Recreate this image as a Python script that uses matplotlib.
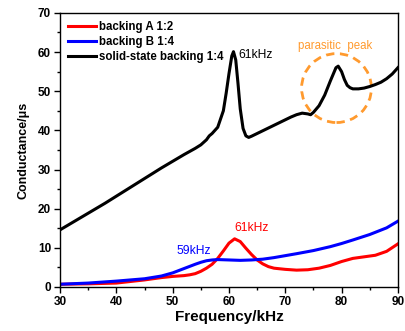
import matplotlib
matplotlib.use('Agg')
from matplotlib import pyplot as plt
from matplotlib.patches import Ellipse
from matplotlib.ticker import MultipleLocator

plt.rcParams['font.family'] = ['Liberation Sans', 'DejaVu Sans']

# solid-state backing 1:4
freq_black = [30, 32, 34, 36, 38, 40, 42, 44, 46, 48, 50, 52, 54, 55, 56, 56.5, 57, 58,
              59, 59.5, 60, 60.5, 60.8, 61.2, 61.6, 62, 62.5, 63, 63.5, 64, 65, 66, 67,
              68, 69, 70, 71, 72, 73, 74, 74.5, 75, 76, 77, 78, 79, 79.4, 80, 80.5, 81,
              81.5, 82, 83, 84, 85, 86, 87, 88, 89, 90]
cond_black = [14.6, 16.3, 18.0, 19.7, 21.4, 23.2, 25.0, 26.8, 28.6, 30.4, 32.1, 33.8, 35.4,
              36.3, 37.6, 38.6, 39.2, 40.8, 45.0, 49.5, 54.5, 59.0, 60.1, 58.0, 52.0, 45.5,
              40.5, 38.6, 38.2, 38.5, 39.2, 39.9, 40.6, 41.3, 42.0, 42.7, 43.4, 44.0, 44.4,
              44.2, 44.0, 44.6, 46.3, 49.0, 52.6, 56.0, 56.4, 55.0, 53.0, 51.5, 50.9, 50.6,
              50.6, 50.8, 51.2, 51.7, 52.3, 53.2, 54.4, 56.0]

# backing A 1:2
freq_red = [30, 35, 40, 45, 48, 50, 52, 53, 54, 55, 56, 57, 58, 59, 60, 61, 62, 63, 64,
            65, 66, 67, 68, 70, 72, 74, 76, 78, 80, 82, 84, 86, 88, 90]
cond_red = [0.7, 0.8, 1.0, 1.8, 2.4, 2.7, 2.9, 3.1, 3.4, 4.0, 4.8, 5.8, 7.3, 9.2, 11.2,
            12.3, 11.6, 9.9, 8.3, 6.9, 5.9, 5.2, 4.8, 4.5, 4.3, 4.4, 4.8, 5.5, 6.5, 7.3,
            7.7, 8.1, 9.1, 11.0]

# backing B 1:4
freq_blue = [30, 35, 40, 45, 48, 50, 52, 54, 55, 56, 57, 58, 60, 62, 64, 66, 68, 70, 72,
             75, 78, 80, 82, 85, 88, 90]
cond_blue = [0.7, 1.0, 1.5, 2.1, 2.8, 3.6, 4.7, 5.8, 6.3, 6.7, 6.9, 7.0, 6.9, 6.8, 6.9,
             7.1, 7.5, 8.0, 8.5, 9.3, 10.3, 11.1, 12.0, 13.4, 15.1, 16.8]

orange = '#FF9A2E'

fig = plt.figure(figsize=(4.06, 3.31), dpi=100)
ax = fig.add_axes([0.148, 0.133, 0.832, 0.828])

ax.plot(freq_red, cond_red, color='#FF0000', lw=2.2, label='backing A 1:2')
ax.plot(freq_blue, cond_blue, color='#0000FF', lw=2.2, label='backing B 1:4')
ax.plot(freq_black, cond_black, color='black', lw=2.2, label='solid-state backing 1:4')

ax.text(61.6, 59.3, '61kHz', fontsize=8.7, color='black', va='center', ha='left')
ax.text(64.0, 15.1, '61kHz', fontsize=8.7, color='#FF0000', va='center', ha='center')
ax.text(53.7, 9.3, '59kHz', fontsize=8.7, color='#0000FF', va='center', ha='center')
ax.text(78.8, 61.6, 'parasitic  peak', fontsize=8.3, color=orange, va='center', ha='center')
ax.add_patch(Ellipse((79.1, 50.8), 12.4, 17.6, fill=False, edgecolor=orange,
                     lw=2.0, linestyle=(0, (3, 2))))

ax.set_xlim(30, 90)
ax.set_ylim(0, 70)
ax.xaxis.set_major_locator(MultipleLocator(10))
ax.xaxis.set_minor_locator(MultipleLocator(5))
ax.yaxis.set_major_locator(MultipleLocator(10))
ax.yaxis.set_minor_locator(MultipleLocator(5))
ax.tick_params(which='major', direction='out', length=4, width=1, labelsize=8.5, pad=2.5)
ax.tick_params(which='minor', direction='out', length=2.5, width=1)
for lab in ax.get_xticklabels() + ax.get_yticklabels():
    lab.set_fontweight('bold')
for s in ax.spines.values():
    s.set_linewidth(1.0)

ax.set_xlabel('Frequency/kHz', fontsize=11, fontweight='bold', labelpad=1.5)
ax.set_ylabel('Conductance/\u03bcs', fontsize=9, fontweight='bold', labelpad=6)

ax.legend(loc='upper left', frameon=False, prop={'size': 8.3, 'weight': 'bold'},
          handlelength=2.4, handletextpad=0.3, labelspacing=0.28,
          borderaxespad=0.3)

fig.savefig('out.png', dpi=100)
plt.close(fig)
